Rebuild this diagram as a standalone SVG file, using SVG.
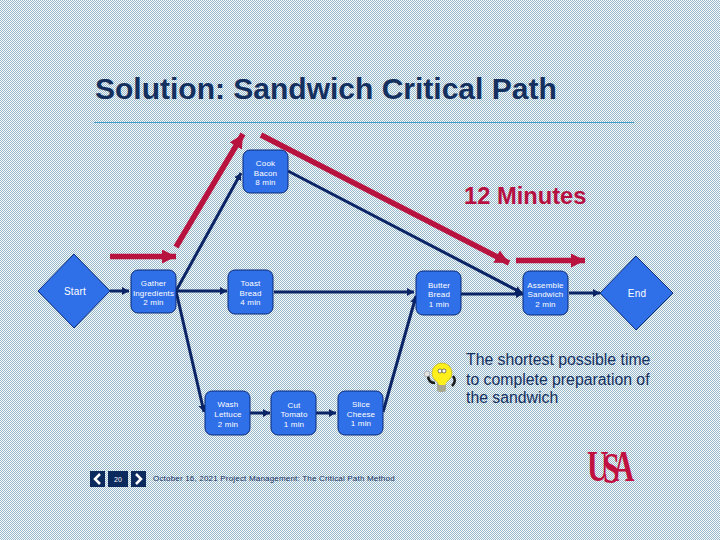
<svg xmlns="http://www.w3.org/2000/svg" width="720" height="540" viewBox="0 0 720 540">
<style>
.n{fill:#2f6fe8;stroke:#0a2a78;stroke-width:1}
.t{font-family:"Liberation Sans",Arial,sans-serif;font-size:8px;fill:#fff;text-anchor:middle;letter-spacing:.15px}
.d{font-size:10px;letter-spacing:.2px}
.c{fill:none;stroke:#0b2465;stroke-width:3}
.r{fill:none;stroke:#b8123f;stroke-width:5.500}
.nav{fill:#0b2a5e}
.l{font-family:"Liberation Serif",serif;font-weight:bold;fill:#c0103f}
</style>
<defs>
<pattern id="bg" width="2" height="2" patternUnits="userSpaceOnUse"><rect width="2" height="2" fill="#f8fafb"/><rect width="1" height="1" fill="#98b8cc"/><rect x="1" y="1" width="1" height="1" fill="#98b8cc"/></pattern>
<marker id="a" markerUnits="userSpaceOnUse" markerWidth="9" markerHeight="9" refX="7" refY="4" orient="auto"><path d="M0 0L7 4L0 8z" fill="#0b2465"/></marker>
<marker id="b" markerUnits="userSpaceOnUse" markerWidth="15" markerHeight="15" refX="14" refY="7" orient="auto"><path d="M0 0L14 7L0 14z" fill="#b8123f"/></marker>
</defs>
<rect width="720" height="540" fill="url(#bg)"/>
<text x="95" y="99" font-family="'Liberation Sans',Arial,sans-serif" font-size="30" font-weight="bold" fill="#14305f">Solution: Sandwich Critical Path</text>
<rect x="94" y="122" width="540" height="1" fill="#3f9fd0"/>
<g id="connectors">
<path class="c" d="M110 291H129" marker-end="url(#a)"/>
<path class="c" d="M176 291L241 173" marker-end="url(#a)"/>
<path class="c" d="M176 291H227" marker-end="url(#a)"/>
<path class="c" d="M176 291L204 412" marker-end="url(#a)"/>
<path class="c" d="M288 171L522 293" marker-end="url(#a)"/>
<path class="c" d="M274 292H414" marker-end="url(#a)"/>
<path class="c" d="M383 412L416 296" marker-end="url(#a)"/>
<path class="c" d="M461 294H523" marker-end="url(#a)"/>
<path class="c" d="M569 293H600" marker-end="url(#a)"/>
<path class="c" d="M250 413H270" marker-end="url(#a)"/>
<path class="c" d="M316 413H336" marker-end="url(#a)"/>
<path class="r" d="M110 256.500H176" marker-end="url(#b)"/>
<path class="r" d="M176 247L243 134" marker-end="url(#b)"/>
<path class="r" d="M261 135L509 263" marker-end="url(#b)"/>
<path class="r" d="M516 260.500H585" marker-end="url(#b)"/>
</g>
<g id="start"><path class="n" d="M74 254L110 291L74 328L38 291z"/><text class="t d" x="75" y="295">Start</text></g>
<g id="gather"><rect class="n" x="131" y="270" width="45" height="43" rx="7"/><text class="t"><tspan x="153.500" y="286">Gather</tspan><tspan x="153.500" y="296">Ingredients</tspan><tspan x="153.500" y="305">2 min</tspan></text></g>
<g id="cook"><rect class="n" x="243" y="150" width="45" height="43" rx="7"/><text class="t"><tspan x="265.500" y="166">Cook</tspan><tspan x="265.500" y="176">Bacon</tspan><tspan x="265.500" y="185">8 min</tspan></text></g>
<g id="toast"><rect class="n" x="228" y="270" width="45" height="44" rx="7"/><text class="t"><tspan x="250.500" y="286">Toast</tspan><tspan x="250.500" y="296">Bread</tspan><tspan x="250.500" y="305">4 min</tspan></text></g>
<g id="butter"><rect class="n" x="416" y="271" width="45" height="44" rx="7"/><text class="t"><tspan x="439" y="288">Butter</tspan><tspan x="439" y="297">Bread</tspan><tspan x="439" y="307">1 min</tspan></text></g>
<g id="assemble"><rect class="n" x="523" y="271" width="45" height="44" rx="7"/><text class="t"><tspan x="545.500" y="288">Assemble</tspan><tspan x="545.500" y="297">Sandwich</tspan><tspan x="545.500" y="307">2 min</tspan></text></g>
<g id="end"><path class="n" d="M636 256L673 293L636 330L600 293z"/><text class="t d" x="637" y="297">End</text></g>
<g id="wash"><rect class="n" x="205" y="391" width="45" height="44" rx="7"/><text class="t"><tspan x="228" y="407">Wash</tspan><tspan x="228" y="417">Lettuce</tspan><tspan x="228" y="427">2 min</tspan></text></g>
<g id="cut"><rect class="n" x="271" y="391" width="45" height="44" rx="7"/><text class="t"><tspan x="294" y="408">Cut</tspan><tspan x="294" y="417">Tomato</tspan><tspan x="294" y="427">1 min</tspan></text></g>
<g id="slice"><rect class="n" x="338" y="391" width="45" height="44" rx="7"/><text class="t"><tspan x="361" y="407">Slice</tspan><tspan x="361" y="417">Cheese</tspan><tspan x="361" y="426">1 min</tspan></text></g>
<text x="464" y="204" font-family="'Liberation Sans',Arial,sans-serif" font-size="23.700" font-weight="bold" fill="#b5103f">12 Minutes</text>
<g font-family="'Liberation Sans',Arial,sans-serif" font-size="15.800" fill="#14305f"><text x="466" y="365">The shortest possible time</text><text x="466" y="385">to complete preparation of</text><text x="466" y="403">the sandwich</text></g>
<g id="bulb"><path d="M428 375q0 8 7 8M453 376q4 5 -1 10" fill="none" stroke="#1a1a1a" stroke-width="2.500"/><circle cx="427" cy="374" r="2.800" fill="#e4e4e4" stroke="#888" stroke-width=".5"/><rect x="437" y="381" width="9" height="11" rx="3" fill="#a8a890"/><circle cx="442" cy="373" r="10" fill="#ffef1a" stroke="#b8a800" stroke-width=".6"/><path d="M436 379l3 6h6l3-6z" fill="#ffef1a"/><circle cx="440" cy="371" r="2" fill="#fff" stroke="#333" stroke-width=".6"/><circle cx="444" cy="371" r="2" fill="#fff" stroke="#333" stroke-width=".6"/></g>
<g id="nav"><rect class="nav" x="90" y="471" width="15" height="16"/><path d="M100 474L95 479L100 484" fill="none" stroke="#fff" stroke-width="2.500"/><rect class="nav" x="108" y="471" width="20" height="16"/><text x="118" y="482" font-family="'Liberation Sans',Arial,sans-serif" font-size="7" fill="#fff" text-anchor="middle">20</text><rect class="nav" x="131" y="471" width="15" height="16"/><path d="M136 474L141 479L136 484" fill="none" stroke="#fff" stroke-width="2.500"/></g>
<text x="153" y="481" font-family="'Liberation Sans',Arial,sans-serif" font-size="8" letter-spacing=".19" fill="#14305f">October 16, 2021 Project Management: The Critical Path Method</text>
<g id="logo"><text class="l" transform="translate(587 481) scale(.68 1)" x="0 23.500 38" y="0 2 0" font-size="44">USA</text></g>
</svg>
